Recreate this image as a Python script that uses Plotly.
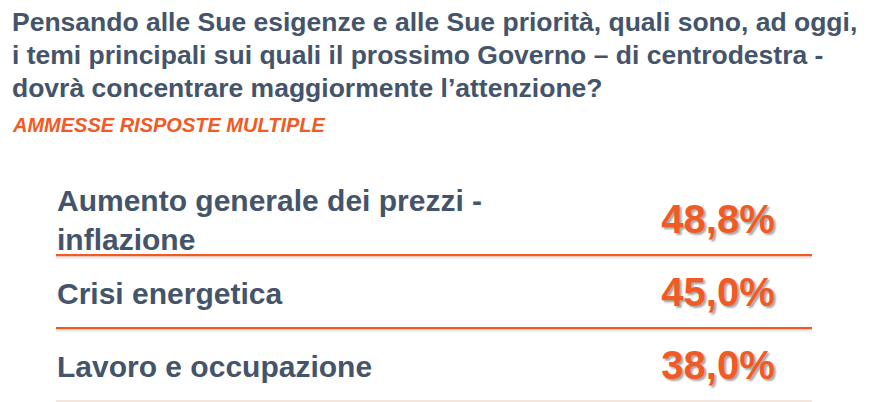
import plotly.graph_objects as go

title_lines = [
    "Pensando alle Sue esigenze e alle Sue priorità, quali sono, ad oggi,",
    "i temi principali sui quali il prossimo Governo – di centrodestra -",
    "dovrà concentrare maggiormente l’attenzione?",
]
subtitle = "AMMESSE RISPOSTE MULTIPLE"
categories = ["Aumento generale dei prezzi -<br>inflazione", "Crisi energetica", "Lavoro e occupazione"]
values = [48.8, 45.0, 38.0]
value_labels = [f"{v:.1f}%".replace(".", ",") for v in values]

W, H = 874, 402
OFF = 8  # page body margin
BASE, STEP = 223, 73
DARK = "#44546A"
ORANGE = "#F15A24"

rows = list(range(len(categories)))

fig = go.Figure()
fig.add_trace(go.Scatter(
    x=[57] * len(categories), y=rows, mode="text", text=categories,
    textposition="middle right",
    textfont=dict(family="Liberation Sans", size=30, color=DARK, weight="bold"),
    hoverinfo="skip", showlegend=False,
))
fig.add_trace(go.Scatter(
    x=[718] * len(values), y=rows, mode="text", text=value_labels,
    textposition="middle center",
    textfont=dict(family="Liberation Sans", size=40, color=ORANGE, weight="bold",
                  shadow="2px 2px 2px rgba(0,0,0,0.35)"),
    hoverinfo="skip", showlegend=False,
))

# separator lines below each row
for i in rows:
    col = ORANGE if i < len(rows) - 1 else "#F2E6DF"
    fig.add_shape(type="line", xref="x", yref="y", x0=56, x1=812, y0=i + 0.44 + 0.03, y1=i + 0.44 + 0.03,
                  line=dict(color="rgba(0,0,0,0.08)", width=3), layer="below")
    fig.add_shape(type="line", xref="x", yref="y", x0=56, x1=812, y0=i + 0.44, y1=i + 0.44,
                  line=dict(color=col, width=2.2), layer="below")

for k, line in enumerate(title_lines):
    fig.add_annotation(text=line, xref="paper", yref="paper", x=(10 - OFF) / W,
                       y=1 - (22 + 33 * k - OFF) / H,
                       xanchor="left", yanchor="middle", showarrow=False,
                       font=dict(family="Liberation Sans", size=26.5, color=DARK, weight="bold"))
fig.add_annotation(text=subtitle, xref="paper", yref="paper", x=(10 - OFF) / W, y=1 - (125 - OFF) / H,
                   xanchor="left", yanchor="middle", showarrow=False,
                   font=dict(family="Liberation Sans", size=20, color=ORANGE, weight="bold", style="italic"))

fig.update_layout(
    width=W, height=H, margin=dict(l=0, r=0, t=0, b=0),
    paper_bgcolor="white", plot_bgcolor="white",
    xaxis=dict(range=[OFF, W + OFF], visible=False, fixedrange=True),
    yaxis=dict(range=[(H - BASE + OFF) / STEP, -(BASE - OFF) / STEP], visible=False, fixedrange=True),
)

fig.write_html("out.html")
